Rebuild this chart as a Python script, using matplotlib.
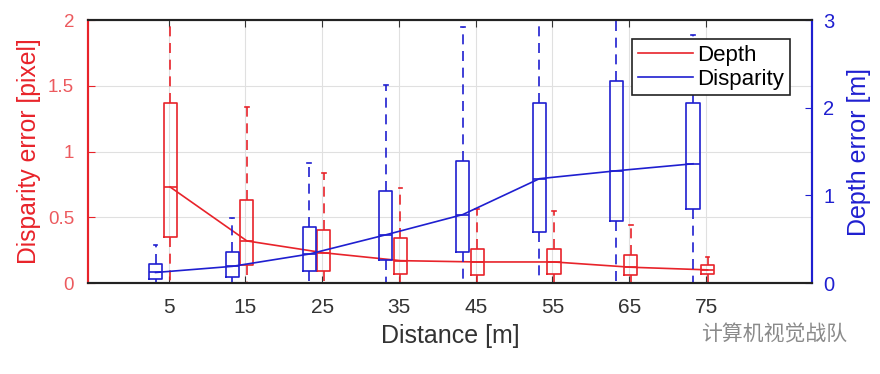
import matplotlib
matplotlib.use("Agg")
import matplotlib.pyplot as plt
import numpy as np

plt.rcParams['font.family'] = ['Liberation Sans', 'DejaVu Sans']

# distances (x ticks)
distance = [5, 15, 25, 35, 45, 55, 65, 75]

# red boxes, left axis [pixel]
red_whishi = [2.3, 1.34, 0.84, 0.72, 0.56, 0.55, 0.44, 0.20]
red_q3 = [1.37, 0.63, 0.40, 0.34, 0.26, 0.26, 0.21, 0.14]
red_med = [0.73, 0.32, 0.23, 0.17, 0.16, 0.16, 0.12, 0.10]
red_q1 = [0.35, 0.14, 0.09, 0.07, 0.06, 0.07, 0.06, 0.07]
red_whislo = [0, 0, 0, 0, 0, 0, 0, 0]

# blue boxes, right axis [m]
blue_whishi = [0.43, 0.74, 1.37, 2.26, 2.92, 3.3, 3.3, 2.83]
blue_q3 = [0.22, 0.35, 0.64, 1.05, 1.39, 2.05, 2.30, 2.05]
blue_med = [0.12, 0.19, 0.33, 0.55, 0.78, 1.19, 1.28, 1.36]
blue_q1 = [0.04, 0.07, 0.14, 0.26, 0.35, 0.58, 0.71, 0.84]
blue_whislo = [0, 0, 0, 0, 0, 0, 0, 0]

RED = "#e8232a"
BLUE = "#1f1fd0"


def stats(lo, q1, med, q3, hi):
    out = []
    for i in range(len(med)):
        out.append(dict(whislo=lo[i], q1=q1[i], med=med[i], q3=q3[i],
                        whishi=hi[i], fliers=[]))
    return out


fig = plt.figure(figsize=(8.8, 3.74), dpi=100)
ax = fig.add_axes([0.1, 0.2433, 0.8227, 0.7032])
ax2 = ax.twinx()

xr = np.array(distance, dtype=float) + 0.2
xb = np.array(distance, dtype=float) - 1.7

ax.bxp(stats(red_whislo, red_q1, red_med, red_q3, red_whishi), positions=xr,
       widths=1.7, showfliers=False, capwidths=0.5,
       boxprops=dict(color=RED, lw=1.2),
       medianprops=dict(color=RED, lw=1.2),
       whiskerprops=dict(color=RED, lw=1.2, ls=(0, (6, 4))),
       capprops=dict(color=RED, lw=1.2))
ax.plot(xr, red_med, color=RED, lw=1.2)

ax2.bxp(stats(blue_whislo, blue_q1, blue_med, blue_q3, blue_whishi), positions=xb,
        widths=1.7, showfliers=False, capwidths=0.5,
        boxprops=dict(color=BLUE, lw=1.2),
        medianprops=dict(color=BLUE, lw=1.2),
        whiskerprops=dict(color=BLUE, lw=1.2, ls=(0, (6, 4))),
        capprops=dict(color=BLUE, lw=1.2))
ax2.plot(xb, blue_med, color=BLUE, lw=1.2)

ax.set_xlim(-5.5, 88.8)
ax.set_ylim(0, 2)
ax2.set_ylim(0, 3)
ax.set_xticks(distance)
ax.set_xticklabels([str(d) for d in distance])
ax.set_yticks([0, 0.5, 1, 1.5, 2])
ax.set_yticklabels(["0", "0.5", "1", "1.5", "2"])
ax2.set_yticks([0, 1, 2, 3])
ax.grid(True, color="#e0e0e0", lw=0.8)
ax.set_axisbelow(True)

ax.tick_params(axis="x", direction="in", top=True, length=5, labelsize=15,
               colors="#333333", pad=11)
ax.tick_params(axis="y", direction="in", length=5, colors=RED, labelsize=13.5,
               pad=10, labelcolor="#ec5a5e")
ax2.tick_params(axis="y", direction="in", length=5, colors=BLUE, labelsize=14.5,
                pad=8)

for a in (ax, ax2):
    a.spines["top"].set_color("#222222")
    a.spines["bottom"].set_color("#222222")
    a.spines["left"].set_color(RED)
    a.spines["right"].set_color(BLUE)
    for s in a.spines.values():
        s.set_linewidth(1.5)

ax.set_ylabel("Disparity error [pixel]", color=RED, fontsize=17.8, labelpad=5)
ax2.set_ylabel("Depth error [m]", color=BLUE, fontsize=18, labelpad=9)
ax.set_xlabel("Distance [m]", color="#333333", fontsize=18, labelpad=5)

h1, = ax.plot([], [], color=RED, lw=1.2)
h2, = ax.plot([], [], color=BLUE, lw=1.2)
leg = ax2.legend([h1, h2], ["Depth", "Disparity"], loc="upper right",
                 bbox_to_anchor=(0.985, 0.97), fontsize=16, fancybox=False,
                 handlelength=2.5, handletextpad=0.2, borderpad=0.25,
                 labelspacing=0.15, framealpha=1)
leg.get_frame().set_edgecolor("#222222")
leg.get_frame().set_linewidth(1.2)

fig.text(0.88, 0.105, "计算机视觉战队", ha="center", va="center", fontsize=15,
         color="#8a8a8a", family=["Noto Sans CJK SC", "DejaVu Sans"])

fig.savefig("out.png", dpi=100)
